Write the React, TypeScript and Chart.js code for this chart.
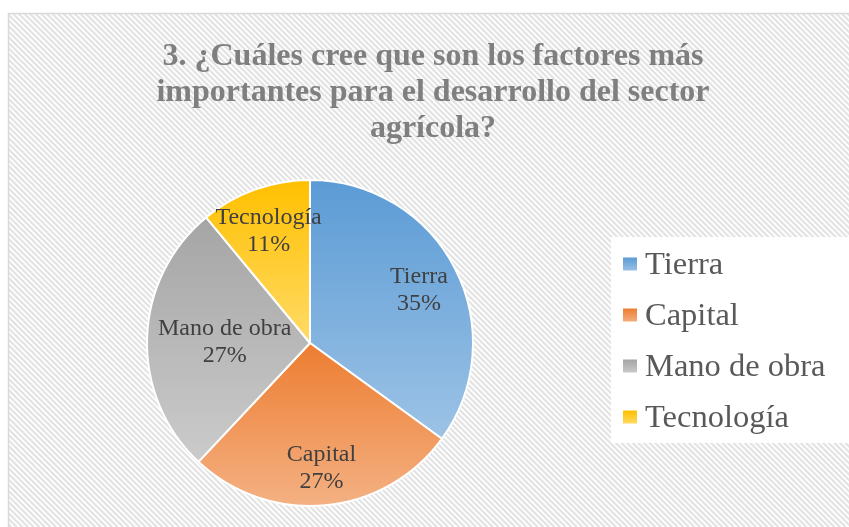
import React, { useEffect, useRef } from "react";
import { Chart, registerables } from "chart.js";

Chart.register(...registerables);

const titleLines = [
  "3. ¿Cuáles cree que son los factores más",
  "importantes para el desarrollo del sector",
  "agrícola?",
];
const categories = ["Tierra", "Capital", "Mano de obra", "Tecnología"];
const percents = [35, 27, 27, 11];
const topColors = ["#5b9bd5", "#ed7d31", "#a5a5a5", "#ffc000"];
const bottomColors = ["#9dc3e6", "#f4b183", "#cbcbcb", "#ffda66"];

const W = 849;
const H = 527;

function sliceGradient(chart: any, index: number) {
  const ca = chart.chartArea;
  if (!ca) return topColors[index];
  const cx = (ca.left + ca.right) / 2;
  const cy = (ca.top + ca.bottom) / 2;
  const r = (Math.min(ca.right - ca.left, ca.bottom - ca.top) - 2) / 2;
  const total = percents.reduce((a, b) => a + b, 0);
  let acc = 0;
  for (let i = 0; i < index; i++) acc += percents[i];
  const a0 = -Math.PI / 2 + (acc / total) * Math.PI * 2;
  const a1 = a0 + (percents[index] / total) * Math.PI * 2;
  const ys = [cy, cy + r * Math.sin(a0), cy + r * Math.sin(a1)];
  for (let k = -2; k <= 4; k++) {
    const a = -Math.PI / 2 + k * Math.PI;
    if (a > a0 && a < a1) ys.push(cy + r * Math.sin(a));
  }
  const minY = Math.min(...ys);
  const maxY = Math.max(...ys);
  const g = chart.ctx.createLinearGradient(0, minY, 0, maxY);
  g.addColorStop(0, topColors[index]);
  g.addColorStop(1, bottomColors[index]);
  return g;
}

const decorPlugin = {
  id: "decor",
  beforeDraw(chart: any) {
    const ctx = chart.ctx;
    ctx.save();
    ctx.fillStyle = "#ffffff";
    ctx.fillRect(0, 0, W, H);
    const fx = 8, fy = 13;
    ctx.beginPath();
    ctx.rect(fx, fy, W - fx + 20, H - fy + 20);
    ctx.clip();
    ctx.strokeStyle = "#e3e3e3";
    ctx.lineWidth = 2.2;
    const p = 5.6;
    for (let s = -H; s < W + H; s += p) {
      ctx.beginPath();
      ctx.moveTo(s, 0);
      ctx.lineTo(s + H, H);
      ctx.stroke();
    }
    ctx.restore();
    ctx.save();
    ctx.strokeStyle = "#d9d9d9";
    ctx.lineWidth = 1.5;
    ctx.beginPath();
    ctx.moveTo(fx + 0.5, H + 5);
    ctx.lineTo(fx + 0.5, fy + 0.5);
    ctx.lineTo(W + 5, fy + 0.5);
    ctx.stroke();
    ctx.restore();

    // title
    ctx.save();
    ctx.fillStyle = "#7f7f7f";
    ctx.font = "bold 32px 'Liberation Serif', 'Times New Roman', serif";
    ctx.textAlign = "center";
    ctx.textBaseline = "alphabetic";
    titleLines.forEach((t, i) => ctx.fillText(t, 433, 65 + i * 36));
    ctx.restore();

    // legend
    ctx.save();
    ctx.fillStyle = "#ffffff";
    ctx.fillRect(611, 237, 238, 206);
    ctx.font = "32.5px 'Liberation Serif', 'Times New Roman', serif";
    ctx.textBaseline = "middle";
    ctx.textAlign = "left";
    categories.forEach((c, i) => {
      const y = 264.5 + i * 51;
      const g = ctx.createLinearGradient(0, y - 7, 0, y + 7);
      g.addColorStop(0, topColors[i]);
      g.addColorStop(1, bottomColors[i]);
      ctx.fillStyle = g;
      ctx.fillRect(623, y - 7, 14, 13);
      ctx.fillStyle = "#595959";
      ctx.fillText(c, 645, y + 1);
    });
    ctx.restore();
  },
  afterDatasetsDraw(chart: any) {
    const ctx = chart.ctx;
    const meta = chart.getDatasetMeta(0);
    ctx.save();
    ctx.font = "24px 'Liberation Serif', 'Times New Roman', serif";
    ctx.fillStyle = "#404040";
    ctx.textAlign = "center";
    ctx.textBaseline = "middle";
    meta.data.forEach((el: any, i: number) => {
      const { x, y, startAngle, endAngle, outerRadius } = el.getProps(
        ["x", "y", "startAngle", "endAngle", "outerRadius"],
        true
      );
      const mid = (startAngle + endAngle) / 2;
      const rr = outerRadius * 0.75;
      let lx = x + Math.cos(mid) * rr;
      const ly = y + Math.sin(mid) * rr + 3;
      const w1 = ctx.measureText(categories[i]).width;
      const left = x - outerRadius + 11;
      const right = x + outerRadius - 11;
      if (lx - w1 / 2 < left) lx = left + w1 / 2;
      if (lx + w1 / 2 > right) lx = right - w1 / 2;
      ctx.fillText(categories[i], lx, ly - 13.5);
      ctx.fillText(percents[i] + "%", lx, ly + 13.5);
    });
    ctx.restore();
  },
};

export default function App() {
  const ref = useRef<HTMLCanvasElement | null>(null);
  useEffect(() => {
    if (!ref.current) return;
    const chart = new Chart(ref.current, {
      type: "pie",
      data: {
        labels: categories,
        datasets: [
          {
            data: percents,
            backgroundColor: (c: any) => sliceGradient(c.chart, c.dataIndex),
            borderColor: "#ffffff",
            borderWidth: 2,
          },
        ],
      },
      options: {
        responsive: false,
        animation: false,
        layout: { padding: { left: 146, right: 375, top: 179, bottom: 20 } },
        plugins: {
          legend: { display: false },
          title: { display: false },
          tooltip: { enabled: false },
        },
      },
      plugins: [decorPlugin],
    } as any);
    return () => chart.destroy();
  }, []);
  return (
    <div style={{ position: "fixed", left: 0, top: 0, width: W, height: H }}>
      <canvas ref={ref} width={W} height={H} style={{ width: W, height: H, display: "block" }} />
    </div>
  );
}
